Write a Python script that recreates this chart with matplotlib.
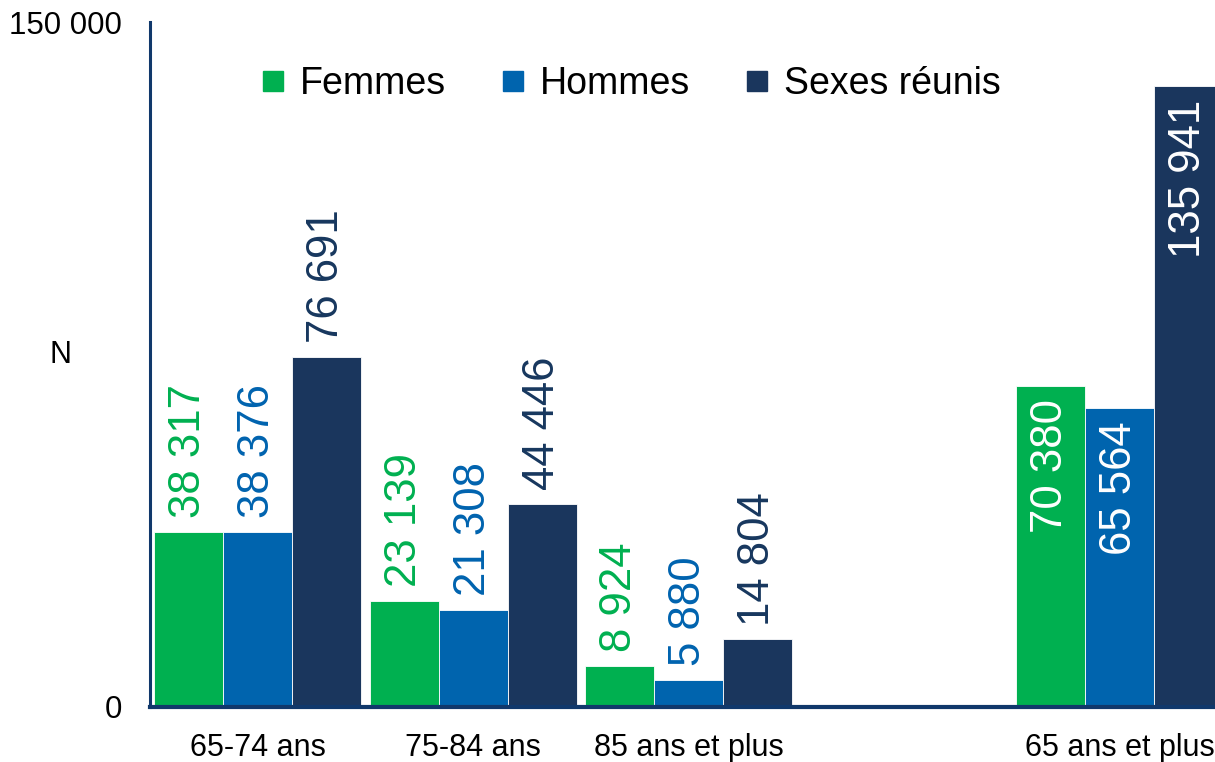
import matplotlib.pyplot as plt
import numpy as np
from matplotlib.lines import Line2D

plt.rcParams['font.family'] = ['Liberation Sans', 'DejaVu Sans']

categories = ['65-74 ans', '75-84 ans', '85 ans et plus', '', '65 ans et plus']
femmes = [38317, 23139, 8924, np.nan, 70380]
hommes = [38376, 21308, 5880, np.nan, 65564]
reunis = [76691, 44446, 14804, np.nan, 135941]
series_names = ['Femmes', 'Hommes', 'Sexes réunis']

bar_colors = ['#00B050', '#0064AE', '#1A365D']
text_colors = ['#00B050', '#0063AF', '#17375E']
axis_color = '#10386B'


def fmt(v):
    return f"{int(v):,}".replace(",", " ")


fig = plt.figure(figsize=(12.15, 7.62), dpi=100)
ax = fig.add_axes([150 / 1215, 1 - 707 / 762, 1077.5 / 1215, 685 / 762])

x = np.arange(len(categories))
w = 0.32
for i, (vals, name) in enumerate(zip([femmes, hommes, reunis], series_names)):
    pos = x + (i - 1) * w
    ax.bar(pos, vals, width=w, color=bar_colors[i],
           edgecolor='white', linewidth=0.6, label=name)
    for j, v in enumerate(vals):
        if np.isnan(v):
            continue
        if j == len(categories) - 1:
            ax.annotate(fmt(v), (pos[j], v), xytext=(0, -10),
                        textcoords='offset points', rotation=90,
                        ha='center', va='top', fontsize=31.5, color='white')
        else:
            ax.annotate(fmt(v), (pos[j], v), xytext=(0, 10),
                        textcoords='offset points', rotation=90,
                        ha='center', va='bottom', fontsize=31.5,
                        color=text_colors[i])

ax.set_xlim(-0.5, len(categories) - 0.5)
ax.set_ylim(0, 150000)
ax.set_yticks([0, 150000])
ax.set_yticklabels(['0', '150 000'])
ax.set_xticks(x)
ax.set_xticklabels(categories)
ax.tick_params(axis='y', length=0, pad=20, labelsize=22.5)
ax.tick_params(axis='x', length=0, pad=19, labelsize=22)

for s in ['top', 'right']:
    ax.spines[s].set_visible(False)
ax.spines['left'].set_color(axis_color)
ax.spines['left'].set_linewidth(2.2)
ax.spines['bottom'].set_color(axis_color)
ax.spines['bottom'].set_linewidth(3)

ax.set_ylabel('N', rotation=0, fontsize=22, va='center')
ax.yaxis.set_label_coords(-0.0826, 0.514)

handles = [Line2D([], [], marker='s', linestyle='none', markersize=14,
                  color=c) for c in bar_colors]
fig.legend(handles, series_names, loc='center',
           bbox_to_anchor=(0.52, 1 - 84 / 762), ncol=3, frameon=False,
           fontsize=27, handlelength=0.55, handletextpad=0.45,
           columnspacing=1.5)

fig.savefig('out.png', dpi=100)
